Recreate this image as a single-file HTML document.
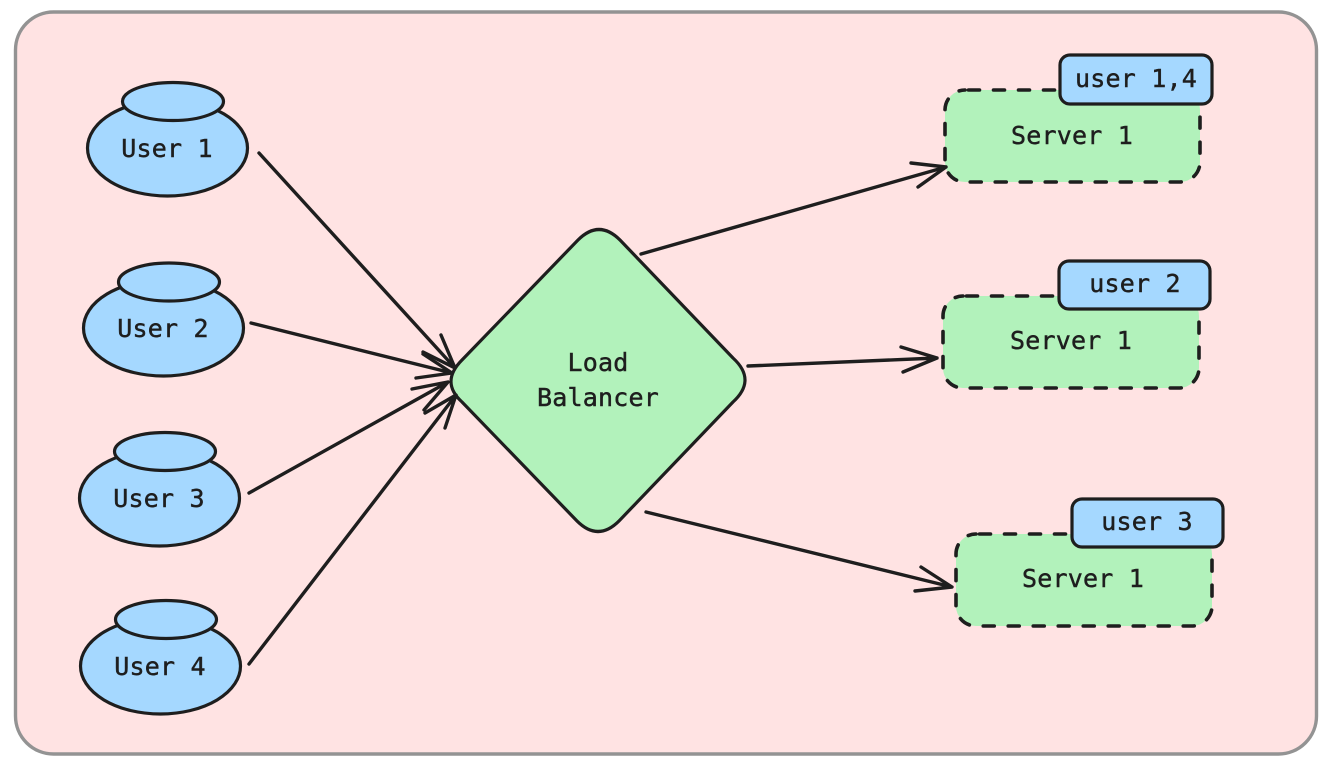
<!DOCTYPE html>
<html><head><meta charset="utf-8"><style>
html,body{margin:0;padding:0;background:#fff}
svg{display:block}
text{font-family:"DejaVu Sans Mono","Liberation Mono",monospace;font-size:25px;letter-spacing:.2px;fill:#1e1e1e;stroke:#1e1e1e;stroke-width:.45px;text-anchor:middle}
.s{stroke:#1e1e1e;stroke-width:3.4;fill:none;stroke-linecap:round;stroke-linejoin:round}
.b{stroke:#1e1e1e;stroke-width:3.2;fill:#a5d8ff}
.d{stroke:#1e1e1e;stroke-width:3.6;fill:#b2f2bb;stroke-dasharray:11 14;stroke-dashoffset:-3.5;stroke-linecap:round}
</style></head><body>
<svg width="1335" height="768" viewBox="0 0 1335 768" xmlns="http://www.w3.org/2000/svg">
<rect x="15.5" y="12" width="1301" height="742" rx="38" fill="#ffe3e3" stroke="#939393" stroke-width="3.4"/>

<ellipse class="b" cx="167.5" cy="148" rx="80" ry="48"/><ellipse class="b" cx="173" cy="101.5" rx="50.5" ry="19"/><text x="167" y="157">User 1</text>
<ellipse class="b" cx="163.5" cy="328" rx="80" ry="48"/><ellipse class="b" cx="169" cy="282" rx="50.5" ry="19"/><text x="163" y="337">User 2</text>
<ellipse class="b" cx="159.5" cy="498" rx="80" ry="48"/><ellipse class="b" cx="165" cy="451.5" rx="50.5" ry="19"/><text x="159" y="507">User 3</text>
<ellipse class="b" cx="160.5" cy="666" rx="80" ry="48"/><ellipse class="b" cx="166" cy="619.5" rx="50.5" ry="19"/><text x="160" y="675">User 4</text>

<path d="M462 360Q440 382 462 402L577 521Q598 542 619 521L733 402Q757 380 733 358L620 240Q599 219 578 240Z" fill="#b2f2bb" stroke="#1e1e1e" stroke-width="3.2" stroke-linejoin="round"/>
<text x="598" y="371">Load</text><text x="598" y="406">Balancer</text>

<rect class="d" x="945" y="90" width="255" height="92" rx="20"/><rect class="b" x="1060" y="55" width="152" height="49" rx="10"/>
<text x="1072" y="144">Server 1</text><text x="1136" y="87">user 1,4</text>
<rect class="d" x="943" y="296" width="256" height="92" rx="20"/><rect class="b" x="1059" y="261" width="151" height="48" rx="10"/>
<text x="1071" y="349">Server 1</text><text x="1135" y="292">user 2</text>
<rect class="d" x="956" y="534" width="256" height="92" rx="20"/><rect class="b" x="1072" y="499" width="151" height="48" rx="10"/>
<text x="1083" y="587">Server 1</text><text x="1147" y="530">user 3</text>

<path class="s" d="M259 153L455 368M441 335L455 368L423 352"/>
<path class="s" d="M251 323L452 373M423 354L452 373L416 378"/>
<path class="s" d="M249 493L448 382M412 389L448 382L424 410"/>
<path class="s" d="M249 664L456 395M425 413L456 395L445 428"/>
<path class="s" d="M641 254L946 167M911 163L946 167L918 187"/>
<path class="s" d="M748 366L937 358M901 347L937 358L903 372"/>
<path class="s" d="M646 512L952 587M921 567L952 587L915 591"/>
</svg>
</body></html>
